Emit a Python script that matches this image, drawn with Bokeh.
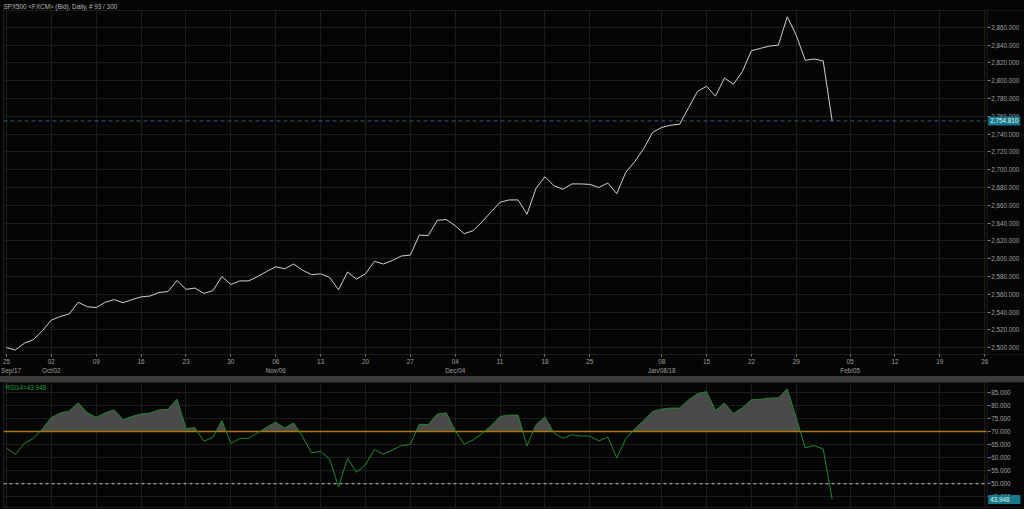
from bokeh.plotting import figure
from bokeh.models import (Range1d, FixedTicker, SingleIntervalTicker, NumeralTickFormatter,
                          LinearAxis, Span, Label, Div, BoxAnnotation)
from bokeh.layouts import column
from bokeh.embed import file_html
from bokeh.resources import INLINE

TITLE = "SPX500 <FXCM> (Bid), Daily, # 93 / 300"

price = [2500.0, 2497.4, 2505.0, 2509.0, 2519.0, 2531.0, 2535.0, 2538.0, 2551.0, 2546.0,
         2545.0, 2551.0, 2554.0, 2550.5, 2554.0, 2557.0, 2558.0, 2562.0, 2563.0, 2575.5,
         2565.5, 2567.0, 2561.0, 2564.0, 2580.0, 2571.0, 2575.0, 2575.0, 2580.0, 2585.6,
         2591.0, 2588.6, 2594.0, 2587.0, 2582.0, 2583.0, 2579.0, 2565.0, 2585.0, 2577.0,
         2583.0, 2597.0, 2594.0, 2598.0, 2603.0, 2604.0, 2626.5, 2626.0, 2643.0, 2644.0,
         2637.0, 2628.0, 2631.5, 2641.5, 2652.6, 2663.4, 2666.0, 2666.0, 2650.0, 2679.0,
         2692.0, 2682.0, 2678.0, 2684.0, 2684.0, 2683.5, 2680.0, 2685.0, 2673.0, 2697.0,
         2709.0, 2723.6, 2742.0, 2747.4, 2750.0, 2751.0, 2769.6, 2788.0, 2793.7, 2782.6,
         2803.0, 2796.0, 2810.4, 2833.7, 2836.3, 2838.9, 2840.0, 2871.9, 2851.0, 2823.0,
         2824.4, 2822.2, 2754.81]

rsi = [63.7, 61.3, 65.5, 67.4, 71.0, 75.4, 77.1, 77.9, 81.0, 77.2,
       75.4, 77.2, 78.3, 74.5, 75.8, 76.7, 77.1, 78.3, 78.5, 82.4,
       71.2, 71.5, 66.3, 67.8, 74.2, 65.4, 67.4, 67.4, 69.5, 71.7,
       73.6, 71.4, 73.3, 68.0, 61.8, 62.4, 59.5, 48.8, 59.7, 54.4,
       57.2, 63.1, 61.3, 62.9, 64.6, 65.1, 72.8, 72.7, 76.7, 77.2,
       70.4, 65.1, 66.8, 69.2, 72.3, 75.8, 76.3, 76.3, 64.5, 72.6,
       75.6, 69.5, 67.4, 68.8, 68.3, 68.3, 66.4, 67.9, 59.9, 67.2,
       71.0, 74.2, 77.7, 78.6, 79.0, 79.0, 82.1, 84.5, 85.3, 78.1,
       80.9, 76.9, 79.1, 82.2, 82.4, 82.8, 82.9, 86.3, 75.2, 63.8,
       64.6, 63.3, 43.948]

week_ticks = [0, 5, 10, 15, 20, 25, 30, 35, 40, 45, 50, 55, 60, 65, 73, 78, 83, 88, 94, 99, 104, 109]
week_labels = ["25", "02", "09", "16", "23", "30", "06", "13", "20", "27", "04", "11",
               "18", "25", "08", "15", "22", "29", "05", "12", "19", "26"]
month_ticks = [0.5, 5, 30, 50, 73, 94]
month_labels = ["Sep/17", "Oct/02", "Nov/06", "Dec/04", "Jan/08/18", "Feb/05"]

RSI_UPPER = 70
RSI_MID = 50

BG = "#050505"
GRID = "#1d1d1d"
TXT = "#a0a0a0"
FONT = "Liberation Sans"
FS = "6.3px"
TEAL = "#17788a"

W = 1024
X_START, X_BORDER, X_END = -0.33, 109.27, 113.43   # plot area edge / price-scale edge
x = list(range(len(price)))
x_range = Range1d(X_START, X_END)


def style_common(p):
    p.background_fill_color = BG
    p.border_fill_color = BG
    p.outline_line_color = GRID
    p.xgrid.ticker = FixedTicker(ticks=week_ticks, minor_ticks=[])
    p.xgrid.grid_line_color = GRID
    p.ygrid.grid_line_color = GRID
    ya = p.yaxis[0]
    ya.fixed_location = X_BORDER
    ya.axis_line_color = None
    ya.major_tick_line_color = "#888888"
    ya.major_tick_out = 3
    ya.major_tick_in = 0
    ya.minor_tick_line_color = None
    ya.major_label_standoff = 1
    ya.major_label_text_color = TXT
    ya.major_label_text_font = FONT
    ya.major_label_text_font_size = FS
    # keep the price-scale strip clean of grid lines
    p.add_layout(BoxAnnotation(left=X_BORDER, fill_color=BG, fill_alpha=1.0,
                               line_color=None, level="underlay"))
    p.add_layout(Span(location=X_BORDER, dimension="height", line_color=GRID, line_width=1))


def value_tag(text, y, pad):
    return Label(x=X_BORDER, y=y, x_offset=1, text=text, text_baseline="middle",
                 text_align="left", text_font=FONT, text_font_size=FS, text_color="#e0f4f6",
                 background_fill_color=TEAL, padding=pad)


def hline(p, y, **kw):
    p.segment(x0=X_START, x1=X_BORDER, y0=y, y1=y, **kw)


# ---------------- price panel ----------------
p1 = figure(width=W, height=376, x_range=x_range, y_range=Range1d(2492.3, 2878.9),
            output_backend="svg", toolbar_location=None, y_axis_location="right",
            min_border_left=3, min_border_right=0, min_border_top=0, min_border_bottom=0)
style_common(p1)
p1.title.text = TITLE
p1.title.text_font = FONT
p1.title.text_font_size = FS
p1.title.text_font_style = "normal"
p1.title.text_color = "#b8b8b8"
p1.title.align = "left"
p1.title.offset = 0
p1.title.standoff = 1

p1.yaxis[0].ticker = SingleIntervalTicker(interval=20, num_minor_ticks=0)
p1.yaxis[0].formatter = NumeralTickFormatter(format="0,0.000")

xa = p1.xaxis[0]
xa.ticker = FixedTicker(ticks=week_ticks, minor_ticks=[])
xa.major_label_overrides = dict(zip(week_ticks, week_labels))
xa.axis_line_color = None
xa.major_tick_line_color = "#888888"
xa.major_tick_out = 2
xa.major_tick_in = 0
xa.major_label_standoff = 2
xa.major_label_text_color = TXT
xa.major_label_text_font = FONT
xa.major_label_text_font_size = FS

xa2 = LinearAxis(ticker=FixedTicker(ticks=month_ticks, minor_ticks=[]),
                 major_label_overrides=dict(zip(month_ticks, month_labels)),
                 axis_line_color=None, major_tick_line_color=None,
                 major_tick_out=0, major_tick_in=0, minor_tick_line_color=None,
                 major_label_standoff=0, major_label_text_color=TXT,
                 major_label_text_font=FONT, major_label_text_font_size=FS)
p1.add_layout(xa2, "below")

hline(p1, price[-1], line_color="#1d6670", line_dash="4 3", line_width=1)
p1.line(x, price, line_color="#d0d0d0", line_width=1)
p1.add_layout(value_tag(f"{price[-1]:,.3f}", price[-1], 2))

# ---------------- separator ----------------
sep = Div(width=W, height=6, margin=0,
          text='<div style="display:flex;justify-content:space-between;align-items:center;'
               'height:6px;font-size:7px;line-height:6px;color:#d8d8d8;padding:0 7px;'
               'font-family:DejaVu Sans">'
               '<span>&#9650;&#9660;</span><span>&#10005;</span></div>',
          styles={"background-color": "#3c3c3c"})

# ---------------- RSI panel ----------------
RSI_LO, RSI_HI = 40.9, 88.8
p2 = figure(width=W, height=127, x_range=x_range, y_range=Range1d(RSI_LO, RSI_HI),
            output_backend="svg", toolbar_location=None, y_axis_location="right",
            x_axis_location=None, min_border_left=3, min_border_right=0,
            min_border_top=0, min_border_bottom=2)
style_common(p2)
p2.yaxis[0].ticker = SingleIntervalTicker(interval=5, num_minor_ticks=0)
p2.yaxis[0].formatter = NumeralTickFormatter(format="0.000")

# fill above the upper level, with crossing points inserted
fx, fy = [], []
for i, r in enumerate(rsi):
    if i > 0:
        a = rsi[i - 1]
        if (a - RSI_UPPER) * (r - RSI_UPPER) < 0:
            t = (RSI_UPPER - a) / (r - a)
            fx.append(i - 1 + t)
            fy.append(RSI_UPPER)
    fx.append(i)
    fy.append(max(r, RSI_UPPER))
p2.varea(x=fx, y1=RSI_UPPER, y2=fy, fill_color="#4a4a4a", fill_alpha=1.0)

hline(p2, RSI_UPPER, line_color="#a87a10", line_width=1.5)
hline(p2, RSI_MID, line_color="#c4c4c4", line_dash="3 3", line_width=1)
p2.line(list(range(len(rsi))), rsi, line_color="#1d8a2d", line_width=1)

p2.add_layout(Label(x=X_START, y=RSI_HI, x_offset=2, y_offset=-1,
                    text=f"RSI14={rsi[-1]:.3f}", text_baseline="top", text_align="left",
                    text_font=FONT, text_font_size=FS, text_color="#1fa334"))
p2.add_layout(value_tag(f"{rsi[-1]:.3f}", rsi[-1], (2, 11, 2, 2)))

layout = column(p1, sep, p2, spacing=0, styles={"background-color": BG})
open("out.html", "w").write(file_html(layout, INLINE))
